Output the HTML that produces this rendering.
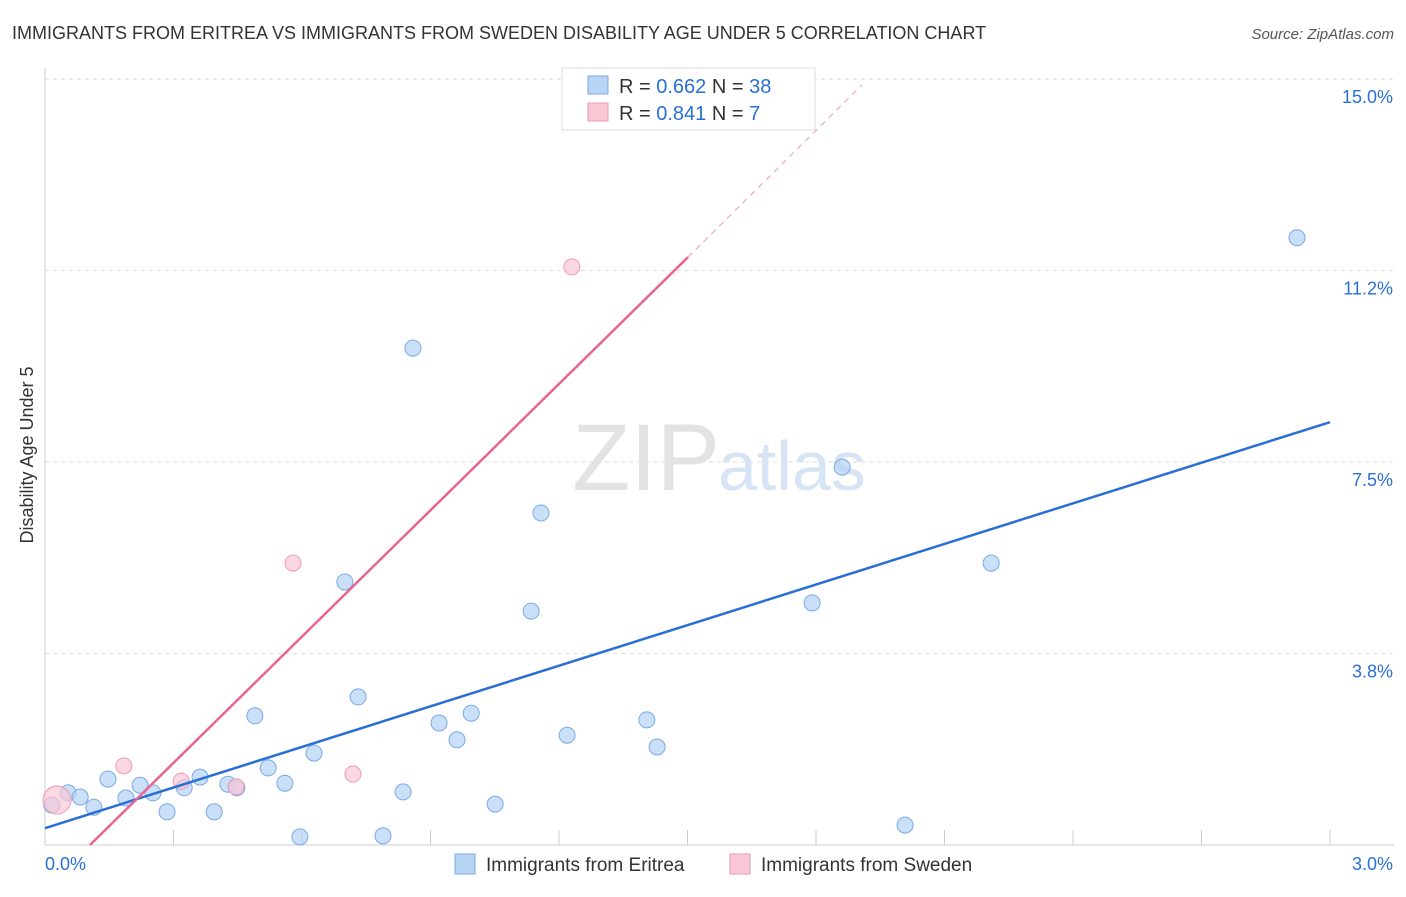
<!DOCTYPE html>
<html><head><meta charset="utf-8"><style>
body{margin:0;background:#fff;font-family:"Liberation Sans",sans-serif;}
svg text{font-family:"Liberation Sans",sans-serif;}
</style></head><body>
<svg id="chart" width="1406" height="892">
<text x="12" y="39" font-size="18" fill="#333">IMMIGRANTS FROM ERITREA VS IMMIGRANTS FROM SWEDEN DISABILITY AGE UNDER 5 CORRELATION CHART</text>
<text x="1394" y="39" font-size="15" fill="#555" font-style="italic" text-anchor="end">Source: ZipAtlas.com</text>
<text x="33" y="455" font-size="18" fill="#333" transform="rotate(-90 33 455)" text-anchor="middle">Disability Age Under 5</text>
<g id="grid"></g>
<text x="720" y="490" font-size="95" fill="#e3e3e3" text-anchor="end" font-family="Liberation Serif">ZIP</text>
<text x="718" y="490" font-size="70" fill="#d6e4f5">atlas</text>
<g id="marks"></g>
<g>
<rect x="562" y="68" width="253" height="62" fill="#fff" stroke="#ddd"/>
<rect x="588" y="76" width="20" height="18" fill="#b8d4f5" stroke="#7aa9e6"/>
<text x="619" y="93" font-size="20" fill="#333">R = <tspan fill="#2a6fd6">0.662</tspan>   N = <tspan fill="#2a6fd6">38</tspan></text>
<rect x="588" y="103" width="20" height="18" fill="#f9c8d6" stroke="#ee9ab3"/>
<text x="619" y="120" font-size="20" fill="#333">R = <tspan fill="#2a6fd6">0.841</tspan>   N = <tspan fill="#2a6fd6">  7</tspan></text>
</g>
<g>
<rect x="455" y="854" width="20" height="20" fill="#b8d4f5" stroke="#7aa9e6"/>
<text x="486" y="871" font-size="19" fill="#333">Immigrants from Eritrea</text>
<rect x="730" y="854" width="20" height="20" fill="#f9c8d6" stroke="#ee9ab3"/>
<text x="761" y="871" font-size="19" fill="#333">Immigrants from Sweden</text>
</g>
</svg>
<script>
const yTicks=[3.75,7.5,11.25,15];
const yTickLabels=["3.8%","7.5%","11.2%","15.0%"];
const xTicks=[0.3,0.6,0.9,1.2,1.5,1.8,2.1,2.4,2.7,3.0];
const eritreaX=[0.016,0.054,0.082,0.114,0.147,0.189,0.222,0.252,0.285,0.325,0.362,0.395,0.427,0.448,0.490,0.521,0.560,0.595,0.628,0.700,0.731,0.789,0.836,0.859,0.920,0.962,0.995,1.051,1.135,1.158,1.219,1.405,1.429,1.791,1.861,2.008,2.209,2.923];
const eritreaY=[0.78,1.02,0.94,0.74,1.29,0.92,1.17,1.02,0.65,1.12,1.33,0.65,1.19,1.12,2.53,1.51,1.21,0.16,1.80,5.15,2.90,0.18,1.04,9.73,2.39,2.06,2.58,0.80,4.58,6.50,2.15,2.45,1.92,4.74,7.40,0.39,5.52,11.89];
const swedenX=[0.028,0.184,0.318,0.446,0.579,0.719,1.230];
const swedenY=[0.88,1.55,1.25,1.14,5.52,1.39,11.32];
const swedenR=[14,8,8,8,8,8,8];
const eritreaTrend=[[0,0.33],[3,8.28]];
const swedenTrend=[[0.105,0],[1.501,11.51]];
const swedenTrendExt=[[1.501,11.51],[1.907,14.88]];
const X=v=>45+v*428.33, Y=v=>845-v*51.07;
const NS="http://www.w3.org/2000/svg";
function mk(p,t,a){const e=document.createElementNS(NS,t);for(const k in a)e.setAttribute(k,a[k]);p.appendChild(e);return e;}
const grid=document.getElementById('grid'), marks=document.getElementById('marks');
mk(grid,'line',{x1:45,y1:68,x2:45,y2:845,stroke:'#ccc'});
mk(grid,'line',{x1:45,y1:845,x2:1394,y2:845,stroke:'#ccc'});
yTicks.forEach((v,i)=>{
 const g=mk(grid,'line',{x1:45,y1:Y(v),x2:1394,y2:Y(v),stroke:'#ddd','stroke-dasharray':'4 4'});
 
 
 const t=mk(grid,'text',{x:1393,y:Y(v)+24,'font-size':18,fill:'#2a6fd6','text-anchor':'end'});t.textContent=yTickLabels[i];
 
 
});
xTicks.forEach(v=>{const l=mk(grid,'line',{x1:X(v),y1:830,x2:X(v),y2:845,stroke:'#ccc'});
 
 });
const x0=mk(grid,'text',{x:45,y:870,'font-size':18,fill:'#2a6fd6'});x0.textContent="0.0%";


const x1=mk(grid,'text',{x:1393,y:870,'font-size':18,fill:'#2a6fd6','text-anchor':'end'});x1.textContent="3.0%";


eritreaX.forEach((v,i)=>{const c=mk(marks,'circle',{cx:X(v),cy:Y(eritreaY[i]),r:8,fill:'#b8d4f5','fill-opacity':0.75,stroke:'#7aa9e6'});
 
 });
swedenX.forEach((v,i)=>{const c=mk(marks,'circle',{cx:X(v),cy:Y(swedenY[i]),r:swedenR[i],fill:'#f9c8d6','fill-opacity':0.7,stroke:'#ee9ab3'});
 
 });
const bl=mk(marks,'line',{x1:X(eritreaTrend[0][0]),y1:Y(eritreaTrend[0][1]),x2:X(eritreaTrend[1][0]),y2:Y(eritreaTrend[1][1]),stroke:'#2a6fd6','stroke-width':2.5});


const pl=mk(marks,'line',{x1:X(swedenTrend[0][0]),y1:Y(swedenTrend[0][1]),x2:X(swedenTrend[1][0]),y2:Y(swedenTrend[1][1]),stroke:'#e86590','stroke-width':2.5});


const pd=mk(marks,'line',{x1:X(swedenTrendExt[0][0]),y1:Y(swedenTrendExt[0][1]),x2:X(swedenTrendExt[1][0]),y2:Y(swedenTrendExt[1][1]),stroke:'#f0a8be','stroke-width':1.2,'stroke-dasharray':'6 5'});


</script>
</body></html>
